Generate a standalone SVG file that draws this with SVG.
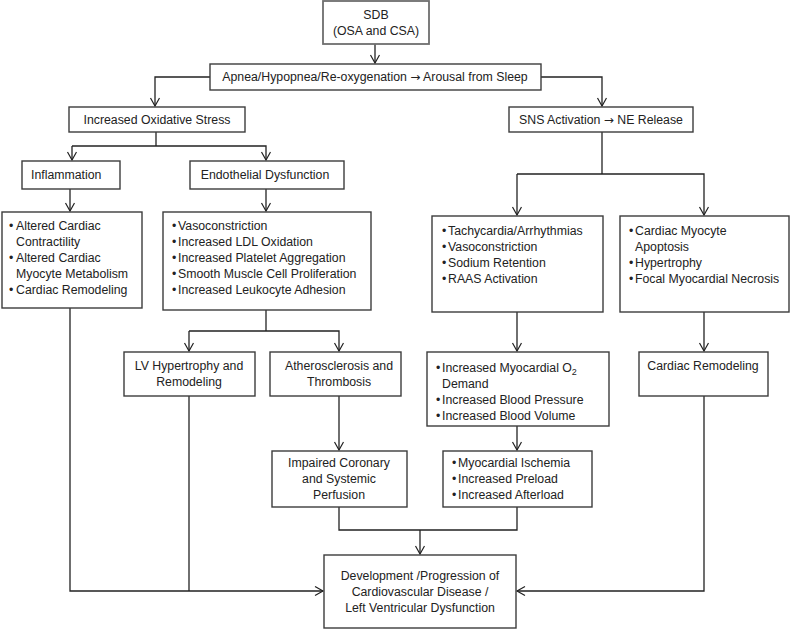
<svg xmlns="http://www.w3.org/2000/svg" width="791" height="630" viewBox="0 0 791 630">
<defs>
<marker id="arr" markerWidth="12" markerHeight="12" refX="9" refY="5" orient="auto" markerUnits="userSpaceOnUse">
<path d="M1,0.5 L9,5 L1,9.5" fill="none" stroke="#222" stroke-width="1.2"/>
</marker>
<style>
.box{fill:#fff;stroke:#3c3c3c;stroke-width:1.4}
.sdb{fill:#fff;stroke:#6e6e6e;stroke-width:1.8}
.c{fill:none;stroke:#222;stroke-width:1.3}
.a{fill:none;stroke:#222;stroke-width:1.3;marker-end:url(#arr)}
text{font-family:"Liberation Sans",Arial,sans-serif;font-size:12.3px;fill:#222}
.m{text-anchor:middle}
.ar{font-family:"DejaVu Sans",sans-serif;font-size:12px}
</style>
</defs>
<rect width="791" height="630" fill="#fff"/>
<g id="connectors">
<path class="a" d="M375,44 V63"/>
<path class="a" d="M210,77 H155 V106"/>
<path class="a" d="M541,77 H602 V106"/>
<path class="c" d="M156,132 V146"/>
<path class="a" d="M72,146 V160"/>
<path class="a" d="M156,146 H266 V160"/>
<path class="c" d="M72,146 H156"/>
<path class="a" d="M70,189 V211"/>
<path class="a" d="M266,189 V211"/>
<path class="c" d="M602,132 V174"/>
<path class="a" d="M517,174 V215"/>
<path class="a" d="M517,174 H704 V215"/>
<path class="c" d="M266,310 V331"/>
<path class="a" d="M189,331 V351"/>
<path class="a" d="M189,331 H339 V351"/>
<path class="a" d="M517,312 V351"/>
<path class="a" d="M704,312 V351"/>
<path class="a" d="M339,396 V450"/>
<path class="a" d="M517,426 V450"/>
<path class="c" d="M339,507 V530 H517 V507"/>
<path class="a" d="M420,530 V554"/>
<path class="a" d="M70,308 V591 H323"/>
<path class="c" d="M189,396 V591"/>
<path class="a" d="M704,396 V591 H517"/>
</g>
<g id="sdb">
<rect class="sdb" x="323" y="1" width="106" height="43"/>
<text class="m" x="376" y="19">SDB</text>
<text class="m" x="376" y="35">(OSA and CSA)</text>
</g>
<g id="apnea">
<rect class="box" x="210" y="64" width="331" height="26"/>
<text class="m" x="375" y="81">Apnea/Hypopnea/Re-oxygenation <tspan class="ar">→</tspan> Arousal from Sleep</text>
</g>
<g id="oxidative">
<rect class="box" x="69" y="107" width="176" height="25"/>
<text class="m" x="157" y="124">Increased Oxidative Stress</text>
</g>
<g id="sns">
<rect class="box" x="509" y="107" width="184" height="25"/>
<text class="m" x="601" y="124">SNS Activation <tspan class="ar">→</tspan> NE Release</text>
</g>
<g id="inflammation">
<rect class="box" x="22" y="161" width="98" height="28"/>
<text x="31" y="179">Inflammation</text>
</g>
<g id="endothelial">
<rect class="box" x="190" y="161" width="154" height="28"/>
<text class="m" x="265" y="179">Endothelial Dysfunction</text>
</g>
<g id="cardiac-list">
<rect class="box" x="2" y="212" width="140" height="96"/>
<text x="9" y="230">•</text><text x="16" y="230">Altered Cardiac</text>
<text x="16" y="246">Contractility</text>
<text x="9" y="262">•</text><text x="16" y="262">Altered Cardiac</text>
<text x="16" y="278">Myocyte Metabolism</text>
<text x="9" y="294">•</text><text x="16" y="294">Cardiac Remodeling</text>
</g>
<g id="endo-list">
<rect class="box" x="163" y="212" width="208" height="98"/>
<text x="172" y="230">•</text><text x="178" y="230">Vasoconstriction</text>
<text x="172" y="246">•</text><text x="178" y="246">Increased LDL Oxidation</text>
<text x="172" y="262">•</text><text x="178" y="262">Increased Platelet Aggregation</text>
<text x="172" y="278">•</text><text x="178" y="278">Smooth Muscle Cell Proliferation</text>
<text x="172" y="294">•</text><text x="178" y="294">Increased Leukocyte Adhesion</text>
</g>
<g id="sns-list">
<rect class="box" x="432" y="216" width="171" height="96"/>
<text x="442" y="235">•</text><text x="448" y="235">Tachycardia/Arrhythmias</text>
<text x="442" y="251">•</text><text x="448" y="251">Vasoconstriction</text>
<text x="442" y="267">•</text><text x="448" y="267">Sodium Retention</text>
<text x="442" y="283">•</text><text x="448" y="283">RAAS Activation</text>
</g>
<g id="myocyte-list">
<rect class="box" x="620" y="216" width="169" height="96"/>
<text x="629" y="235">•</text><text x="635" y="235">Cardiac Myocyte</text>
<text x="635" y="251">Apoptosis</text>
<text x="629" y="267">•</text><text x="635" y="267">Hypertrophy</text>
<text x="629" y="283">•</text><text x="635" y="283">Focal Myocardial Necrosis</text>
</g>
<g id="lv">
<rect class="box" x="124" y="352" width="131" height="44"/>
<text class="m" x="189" y="370">LV Hypertrophy and</text>
<text class="m" x="189" y="386">Remodeling</text>
</g>
<g id="athero">
<rect class="box" x="270" y="352" width="131" height="44"/>
<text class="m" x="339" y="370">Atherosclerosis and</text>
<text class="m" x="339" y="386">Thrombosis</text>
</g>
<g id="demand-list">
<rect class="box" x="427" y="352" width="182" height="74"/>
<text x="436" y="372">•</text><text x="442" y="372">Increased Myocardial O<tspan font-size="9" dy="3">2</tspan></text>
<text x="442" y="388">Demand</text>
<text x="436" y="404">•</text><text x="442" y="404">Increased Blood Pressure</text>
<text x="436" y="420">•</text><text x="442" y="420">Increased Blood Volume</text>
</g>
<g id="cardiac-remodeling">
<rect class="box" x="639" y="352" width="129" height="44"/>
<text class="m" x="703" y="370">Cardiac Remodeling</text>
</g>
<g id="impaired">
<rect class="box" x="272" y="451" width="135" height="56"/>
<text class="m" x="339" y="467">Impaired Coronary</text>
<text class="m" x="339" y="483">and Systemic</text>
<text class="m" x="339" y="499">Perfusion</text>
</g>
<g id="ischemia-list">
<rect class="box" x="443" y="451" width="149" height="56"/>
<text x="452" y="467">•</text><text x="458" y="467">Myocardial Ischemia</text>
<text x="452" y="483">•</text><text x="458" y="483">Increased Preload</text>
<text x="452" y="499">•</text><text x="458" y="499">Increased Afterload</text>
</g>
<g id="outcome">
<rect class="box" x="324" y="555" width="192" height="73"/>
<text class="m" x="420" y="580">Development /Progression of</text>
<text class="m" x="420" y="596">Cardiovascular Disease /</text>
<text class="m" x="420" y="612">Left Ventricular Dysfunction</text>
</g>
</svg>
